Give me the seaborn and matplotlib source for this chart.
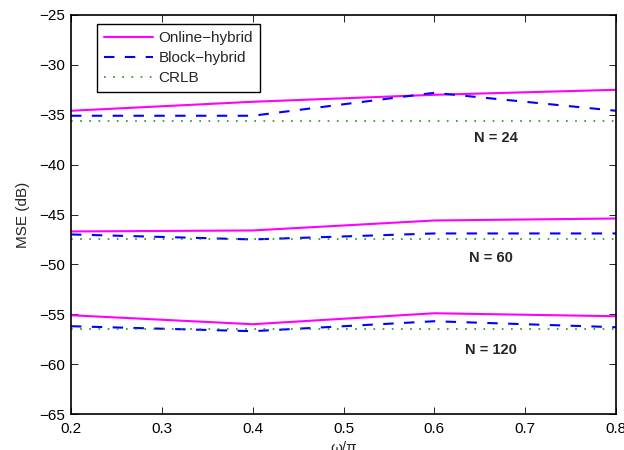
import numpy as np
import pandas as pd
import matplotlib
matplotlib.use("Agg")
import matplotlib.pyplot as plt
import seaborn as sns

omega = [0.2, 0.4, 0.6, 0.8]

online_24 = [-34.6, -33.7, -33.0, -32.5]
block_24 = [-35.1, -35.1, -32.8, -34.6]
crlb_24 = [-35.6, -35.6, -35.6, -35.6]

online_60 = [-46.7, -46.6, -45.6, -45.4]
block_60 = [-47.0, -47.5, -46.9, -46.9]
crlb_60 = [-47.5, -47.5, -47.5, -47.5]

online_120 = [-55.1, -56.0, -54.9, -55.2]
block_120 = [-56.2, -56.7, -55.7, -56.3]
crlb_120 = [-56.5, -56.5, -56.5, -56.5]

methods = ["Online\u2212hybrid", "Block\u2212hybrid", "CRLB"]
n_labels = ["N = 24", "N = 60", "N = 120"]
label_pos = [(0.644, -37.3), (0.638, -49.4), (0.634, -58.6)]

series = {
    ("N = 24", methods[0]): online_24, ("N = 24", methods[1]): block_24, ("N = 24", methods[2]): crlb_24,
    ("N = 60", methods[0]): online_60, ("N = 60", methods[1]): block_60, ("N = 60", methods[2]): crlb_60,
    ("N = 120", methods[0]): online_120, ("N = 120", methods[1]): block_120, ("N = 120", methods[2]): crlb_120,
}
rows = []
for (n, m), vals in series.items():
    for x, v in zip(omega, vals):
        rows.append({"omega": x, "mse": v, "method": m, "N": n})
df = pd.DataFrame(rows)

sns.set_style("white")
plt.rcParams["font.family"] = ["Liberation Sans", "DejaVu Sans"]
plt.rcParams["font.size"] = 11

fig = plt.figure(figsize=(6.24, 4.5), dpi=100)
ax = fig.add_axes([71 / 624, 1 - 414 / 450, (616 - 71) / 624, (414 - 15) / 450])

palette = {methods[0]: "#ff00ff", methods[1]: "#0000ff", methods[2]: "#1a9a1a"}
styles = {methods[0]: "", methods[1]: (5, 5), methods[2]: (1, 4.5)}
widths = {methods[0]: 1.5, methods[1]: 1.5, methods[2]: 1.2}

for m in methods:
    sub = df[df["method"] == m]
    sns.lineplot(data=sub, x="omega", y="mse", units="N", estimator=None,
                 color=palette[m], ax=ax, lw=widths[m], legend=False)
    for line in ax.lines[-3:]:
        if styles[m]:
            line.set_dashes(styles[m])
    ax.lines[-1].set_label(m)

for txt, (x, y) in zip(n_labels, label_pos):
    ax.text(x, y, txt, fontsize=10.5, fontweight="bold", va="center", ha="left")

ax.set_xlim(0.2, 0.8)
ax.set_ylim(-65, -25)
ax.set_xticks([0.2, 0.3, 0.4, 0.5, 0.6, 0.7, 0.8])
ax.set_xticklabels(["0.2", "0.3", "0.4", "0.5", "0.6", "0.7", "0.8"])
ax.set_yticks(np.arange(-65, -24, 5))
ax.set_yticklabels([f"\u2212{abs(v)}" for v in range(-65, -24, 5)])
ax.set_xlabel("\u03c9/\u03c0", labelpad=3)
ax.set_ylabel("MSE (dB)", labelpad=7)

for s in ax.spines.values():
    s.set_visible(True)
    s.set_color("black")
    s.set_linewidth(1.2)
ax.tick_params(direction="in", length=5, width=0.6, colors="black",
               top=True, right=True, bottom=True, left=True, pad=4)
ax.tick_params(axis="x", pad=6)

handles = [ax.lines[2], ax.lines[5], ax.lines[8]]
leg = ax.legend(handles=handles, labels=methods, loc="upper left",
                bbox_to_anchor=(0.048, 0.977), borderaxespad=0, frameon=True, fancybox=False,
                framealpha=1, edgecolor="black", fontsize=11,
                handlelength=3.2, borderpad=0.45, labelspacing=0.4, handletextpad=0.35)
leg.get_frame().set_linewidth(1.0)

fig.savefig("out.png", dpi=100)
